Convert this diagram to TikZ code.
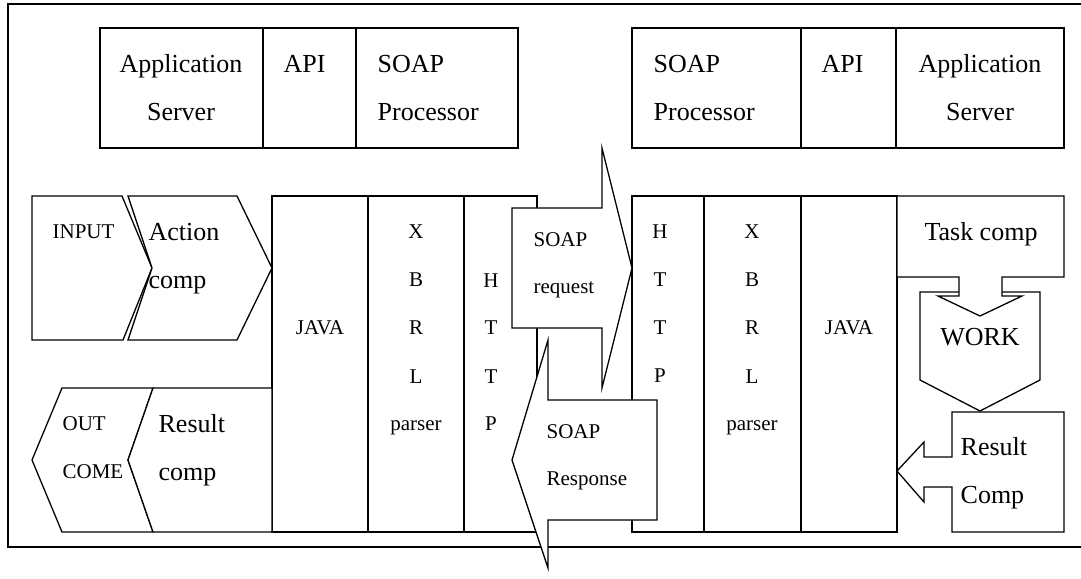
\documentclass[tikz,border=0pt]{standalone}
\usepackage{fontspec}
\setmainfont{Liberation Serif}
\begin{document}
\begin{tikzpicture}[x=1pt,y=-1pt,line width=1.3pt,line join=miter,
  blk/.style={draw,fill=white},
  big/.style={font=\fontsize{26}{30}\selectfont,inner sep=0pt},
  small/.style={font=\fontsize{21}{25}\selectfont,inner sep=0pt}]
\useasboundingbox (0,0) rectangle (1081,578);

% outer frame (open on the right)
\draw (1081,4) -- (8,4) -- (8,547) -- (1081,547);

% upper stacks
\draw (100,28) rectangle (518,148);
\draw (263,28) -- (263,148);
\draw (356,28) -- (356,148);
\draw (632,28) rectangle (1064,148);
\draw (801,28) -- (801,148);
\draw (896,28) -- (896,148);

\node[big,anchor=base] (appL1) at (181,73) {Application};
\node[big,anchor=base] (appL2) at (181,120) {Server};
\node[big,anchor=base west] (apiL) at (283,73) {API};
\node[big,anchor=base west] (spL1) at (377,73) {SOAP};
\node[big,anchor=base west] (spL2) at (377,120) {Processor};
\node[big,anchor=base west] (spR1) at (653,73) {SOAP};
\node[big,anchor=base west] (spR2) at (653,120) {Processor};
\node[big,anchor=base west] (apiR) at (821,73) {API};
\node[big,anchor=base] (appR1) at (980,73) {Application};
\node[big,anchor=base] (appR2) at (980,120) {Server};

% protocol columns
\draw (272,196) rectangle (368,532);
\draw (368,196) rectangle (464,532);
\draw (464,196) rectangle (537,532);
\draw (632,196) rectangle (704,532);
\draw (704,196) rectangle (801,532);
\draw (801,196) rectangle (897,532);

\node[small,anchor=base] (javaL) at (320,334) {JAVA};
\node[small,anchor=base] (xL1) at (416,238) {X};
\node[small,anchor=base] (xL2) at (416,286) {B};
\node[small,anchor=base] (xL3) at (416,334) {R};
\node[small,anchor=base] (xL4) at (416,383) {L};
\node[small,anchor=base] (xL5) at (416,430) {parser};
\node[small,anchor=base] (hL1) at (491,287) {H};
\node[small,anchor=base] (hL2) at (491,334) {T};
\node[small,anchor=base] (hL3) at (491,383) {T};
\node[small,anchor=base] (hL4) at (491,430) {P};

\node[small,anchor=base] (hR1) at (660,238) {H};
\node[small,anchor=base] (hR2) at (660,286) {T};
\node[small,anchor=base] (hR3) at (660,334) {T};
\node[small,anchor=base] (hR4) at (660,382) {P};
\node[small,anchor=base] (xR1) at (752,238) {X};
\node[small,anchor=base] (xR2) at (752,286) {B};
\node[small,anchor=base] (xR3) at (752,334) {R};
\node[small,anchor=base] (xR4) at (752,383) {L};
\node[small,anchor=base] (xR5) at (752,430) {parser};
\node[small,anchor=base] (javaR) at (849,334) {JAVA};

% client components
\draw[blk] (32,196) -- (122,196) -- (152,268) -- (123,340) -- (32,340) -- cycle;
\draw[blk] (128,196) -- (237,196) -- (272,268) -- (237,340) -- (128,340) -- (152,268) -- cycle;
\draw[blk] (62,388) -- (153,388) -- (128,460) -- (153,532) -- (62,532) -- (32,460) -- cycle;
\draw[blk] (153,388) -- (272,388) -- (272,532) -- (153,532) -- (128,460) -- cycle;

\node[small,anchor=base west] (inp) at (52,238) {INPUT};
\node[big,anchor=base west] (act1) at (148,240) {Action};
\node[big,anchor=base west] (act2) at (148,288) {comp};
\node[small,anchor=base west] (out1) at (62,430) {OUT};
\node[small,anchor=base west] (out2) at (62,478) {COME};
\node[big,anchor=base west] (res1) at (158,432) {Result};
\node[big,anchor=base west] (res2) at (158,480) {comp};

% server components
\draw[blk] (920,292) -- (1040,292) -- (1040,380) -- (980,411) -- (920,380) -- cycle;
\draw[blk] (897,196) -- (1064,196) -- (1064,277) -- (1002,277) -- (1002,296)
  -- (1022,296) -- (980,316) -- (938,296) -- (959,296) -- (959,277) -- (897,277) -- cycle;
\draw[blk] (952,412) -- (1064,412) -- (1064,532) -- (952,532) -- (952,487)
  -- (924,487) -- (924,502) -- (897,471) -- (924,442) -- (924,457) -- (952,457) -- cycle;

\node[big,anchor=base] (task) at (981,240) {Task comp};
\node[big,anchor=base] (work) at (980,345) {WORK};
\node[big,anchor=base west] (rc1) at (960,455) {Result};
\node[big,anchor=base west] (rc2) at (960,503) {Comp};

% SOAP messages
\draw[blk] (512,208) -- (602,208) -- (602,148) -- (632,268) -- (602,388) -- (602,328) -- (512,328) -- cycle;
\draw[blk] (657,400) -- (657,520) -- (548,520) -- (548,568) -- (512,460) -- (548,340) -- (548,400) -- cycle;

\node[small,anchor=base west] (rq1) at (533,246) {SOAP};
\node[small,anchor=base west] (rq2) at (533,293) {request};
\node[small,anchor=base west] (rs1) at (546,438) {SOAP};
\node[small,anchor=base west] (rs2) at (546,485) {Response};
\end{tikzpicture}
\end{document}
